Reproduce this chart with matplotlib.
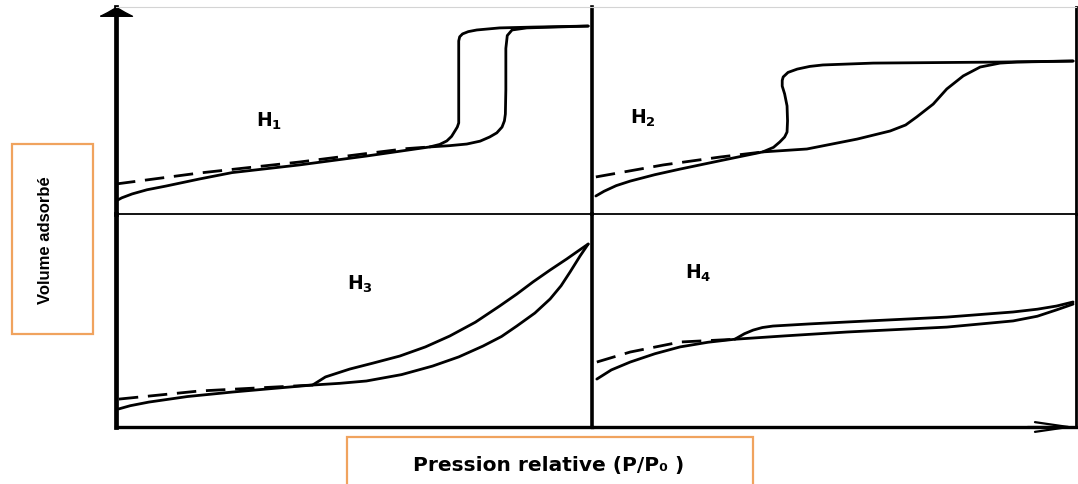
import matplotlib
matplotlib.use("Agg")
import matplotlib.pyplot as plt
from matplotlib.patches import Rectangle
from matplotlib.path import Path

# ---------------------------------------------------------------------------
# Hysteresis loop types (IUPAC H1-H4): relative pressure P/P0 vs adsorbed volume
# (arbitrary units, 0-1 per panel).
# ---------------------------------------------------------------------------
panel_names = [r"H$_\mathbf{1}$", r"H$_\mathbf{2}$", r"H$_\mathbf{3}$", r"H$_\mathbf{4}$"]

# H1 : narrow, vertical, parallel branches
h1_ads_x = [0.000, 0.012, 0.034, 0.065, 0.105, 0.175, 0.244, 0.385, 0.526, 0.659,
            0.700, 0.737, 0.765, 0.785, 0.800, 0.811, 0.816, 0.818, 0.819, 0.819,
            0.822, 0.832, 0.863, 0.992]
h1_ads_y = [0.063, 0.078, 0.097, 0.117, 0.135, 0.169, 0.200, 0.237, 0.280, 0.324,
            0.330, 0.338, 0.352, 0.372, 0.392, 0.420, 0.450, 0.483, 0.600, 0.800,
            0.862, 0.889, 0.899, 0.908]
h1_des_x = [0.659, 0.680, 0.695, 0.705, 0.712, 0.717, 0.720, 0.720, 0.720, 0.722,
            0.728, 0.740, 0.758, 0.806, 0.876, 0.992]
h1_des_y = [0.324, 0.336, 0.353, 0.375, 0.401, 0.420, 0.440, 0.652, 0.836, 0.856,
            0.870, 0.881, 0.889, 0.899, 0.903, 0.908]
h1_ext_x = [0.000, 0.175, 0.385, 0.526, 0.611, 0.659]
h1_ext_y = [0.145, 0.198, 0.251, 0.292, 0.316, 0.324]

# H2 : triangular loop with steep desorption branch
h2_ads_x = [0.008, 0.025, 0.050, 0.079, 0.130, 0.182, 0.270, 0.353, 0.444, 0.548,
            0.616, 0.648, 0.671, 0.705, 0.733, 0.767, 0.802, 0.843, 0.878, 0.994]
h2_ads_y = [0.087, 0.110, 0.137, 0.159, 0.190, 0.217, 0.260, 0.300, 0.314, 0.362,
            0.401, 0.430, 0.469, 0.531, 0.604, 0.667, 0.710, 0.729, 0.734, 0.739]
h2_des_x = [0.353, 0.375, 0.388, 0.398, 0.403, 0.404, 0.403, 0.398, 0.393, 0.393,
            0.395, 0.405, 0.424, 0.450, 0.477, 0.581, 0.843, 0.994]
h2_des_y = [0.300, 0.322, 0.348, 0.372, 0.396, 0.450, 0.522, 0.580, 0.618, 0.645,
            0.662, 0.684, 0.700, 0.713, 0.720, 0.729, 0.734, 0.739]
h2_ext_x = [0.008, 0.147, 0.264, 0.353]
h2_ext_y = [0.179, 0.237, 0.275, 0.300]

# H3 : no plateau at high P/P0
h3_ads_x = [0.006, 0.030, 0.069, 0.150, 0.244, 0.330, 0.413, 0.470, 0.526, 0.600,
            0.665, 0.720, 0.771, 0.810, 0.842, 0.880, 0.912, 0.935, 0.954, 0.975,
            0.992]
h3_ads_y = [0.085, 0.100, 0.117, 0.143, 0.164, 0.181, 0.197, 0.205, 0.216, 0.246,
            0.286, 0.329, 0.380, 0.425, 0.474, 0.535, 0.601, 0.663, 0.728, 0.803,
            0.859]
h3_des_x = [0.413, 0.440, 0.491, 0.540, 0.596, 0.650, 0.701, 0.755, 0.806, 0.842,
            0.876, 0.912, 0.947, 0.970, 0.992]
h3_des_y = [0.197, 0.235, 0.272, 0.300, 0.333, 0.376, 0.427, 0.492, 0.568, 0.624,
            0.681, 0.737, 0.789, 0.825, 0.859]
h3_ext_x = [0.006, 0.175, 0.413]
h3_ext_y = [0.131, 0.169, 0.197]

# H4 : narrow, almost parallel horizontal branches
h4_ads_x = [0.010, 0.040, 0.079, 0.130, 0.182, 0.240, 0.295, 0.400, 0.527, 0.733,
            0.870, 0.920, 0.960, 0.994]
h4_ads_y = [0.225, 0.268, 0.305, 0.344, 0.376, 0.398, 0.412, 0.428, 0.446, 0.469,
            0.498, 0.520, 0.550, 0.577]
h4_des_x = [0.295, 0.315, 0.333, 0.352, 0.374, 0.450, 0.527, 0.733, 0.870, 0.920,
            0.960, 0.994]
h4_des_y = [0.412, 0.438, 0.455, 0.467, 0.474, 0.484, 0.493, 0.516, 0.540, 0.553,
            0.568, 0.587]
h4_ext_x = [0.010, 0.079, 0.182, 0.295]
h4_ext_y = [0.305, 0.352, 0.399, 0.412]

curves = [
    (h1_ads_x, h1_ads_y, h1_des_x, h1_des_y, h1_ext_x, h1_ext_y),
    (h2_ads_x, h2_ads_y, h2_des_x, h2_des_y, h2_ext_x, h2_ext_y),
    (h3_ads_x, h3_ads_y, h3_des_x, h3_des_y, h3_ext_x, h3_ext_y),
    (h4_ads_x, h4_ads_y, h4_des_x, h4_des_y, h4_ext_x, h4_ext_y),
]

y_label = "Volume adsorbé"
x_label = "Pression relative (P/P\u2080 )"

# ---------------------------------------------------------------------------
plt.rcParams["mathtext.fontset"] = "dejavusans"

W, H = 1078, 485
fig = plt.figure(figsize=(W / 100, H / 100), dpi=100)
fig.patch.set_facecolor("white")


def px_rect(left, top, right, bottom):
    return [left / W, 1 - bottom / H, (right - left) / W, (bottom - top) / H]


rects = [
    px_rect(116, 8, 592, 215),
    px_rect(592, 8, 1076, 215),
    px_rect(116, 215, 592, 428),
    px_rect(592, 215, 1076, 428),
]
label_pos = [(0.295, 0.425), (0.079, 0.440), (0.486, 0.648), (0.192, 0.700)]

LINE = dict(color="black", lw=2.0, solid_capstyle="round", solid_joinstyle="round")
axes = []
for i, (rect, name, cv, lp) in enumerate(zip(rects, panel_names, curves, label_pos)):
    ax = fig.add_axes(rect)
    ax.set_xlim(0, 1)
    ax.set_ylim(0, 1)
    ax.set_xticks([])
    ax.set_yticks([])
    ax.patch.set_alpha(0)
    ax_x, ax_y, de_x, de_y, ex_x, ex_y = cv
    ax.plot(ax_x, ax_y, **LINE)
    ax.plot(de_x, de_y, **LINE)
    ax.plot(ex_x, ex_y, color="black", lw=2.0, dashes=(7, 3.5))
    ax.text(lp[0], lp[1], name, fontsize=13.5, fontweight="heavy",
            family="DejaVu Sans", ha="left", va="baseline")

    left_col = i in (0, 2)
    top_row = i in (0, 1)
    sp = ax.spines
    sp["left"].set_visible(left_col)
    sp["left"].set_linewidth(3.4)
    sp["right"].set_linewidth(2.6 if left_col else 2.0)
    if top_row:
        sp["top"].set_color("#d4d4d4")
        sp["top"].set_linewidth(0.8)
        sp["bottom"].set_linewidth(1.3)
    else:
        sp["top"].set_visible(False)
        sp["bottom"].set_linewidth(2.4)
    axes.append(ax)

# arrow head on the vertical axis
head = Path([(-1.0, -0.55), (-0.55, -0.32), (0.0, 0.0), (0.55, -0.32), (1.0, -0.55),
             (-1.0, -0.55)])
axes[0].plot([0], [1], marker=head, markersize=23, color="black", clip_on=False)

# arrow on the horizontal axis
axes[3].annotate("", xy=(1.0, 0.0), xytext=(0.90, 0.0), xycoords="axes fraction",
                 arrowprops=dict(arrowstyle="->,head_length=2.4,head_width=0.35",
                                 lw=1.6, color="black", shrinkA=0, shrinkB=0))

# axis titles in framed boxes
ORANGE = "#f0a35e"
fig.add_artist(Rectangle((12 / W, 1 - 335 / H), 81 / W, 190 / H, transform=fig.transFigure,
                         fill=False, edgecolor=ORANGE, lw=1.6))
fig.text(45 / W, 1 - 240 / H, y_label, rotation=90, ha="center", va="center",
         fontsize=12, fontweight="bold", family="Liberation Sans")

fig.add_artist(Rectangle((347 / W, 1 - 493 / H), 406 / W, 55 / H, transform=fig.transFigure,
                         fill=False, edgecolor=ORANGE, lw=1.6, clip_on=False))
fig.text(549 / W, 1 - 466 / H, x_label, ha="center", va="center",
         fontsize=14.5, fontweight="heavy", family="DejaVu Sans")

fig.savefig("out.png", dpi=100)
